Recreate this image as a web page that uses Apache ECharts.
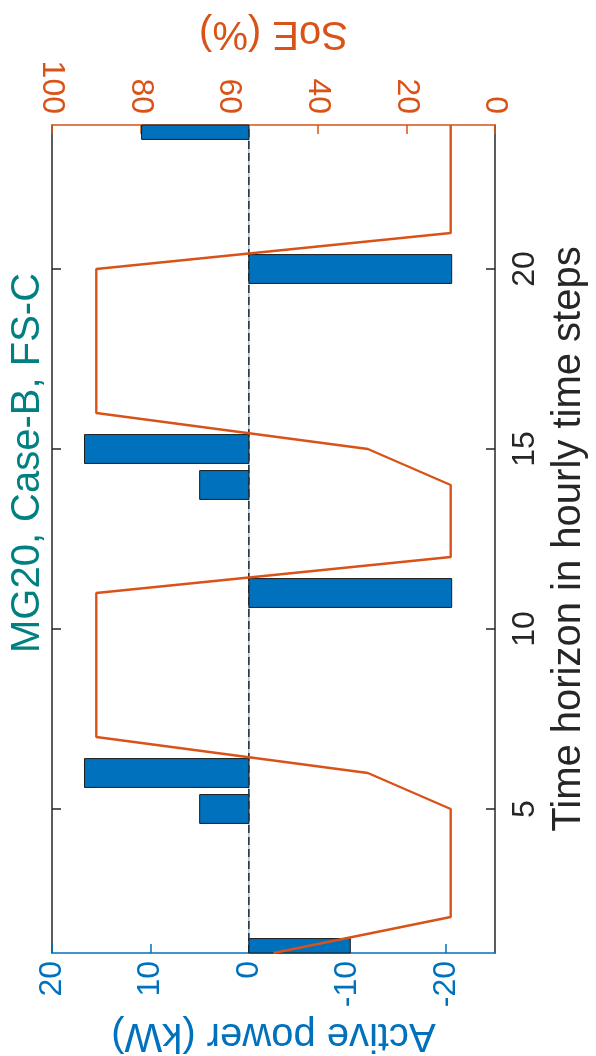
<!DOCTYPE html>
<html>
<head>
<meta charset="utf-8">
<script src="https://cdn.jsdelivr.net/npm/echarts@6/dist/echarts.min.js"></script>
<style>
  html, body { margin: 0; padding: 0; background: #fff; }
  #chart { width: 596px; height: 1056px; }
</style>
</head>
<body>
<div id="chart"></div>
<script>
// hourly time steps
var hours = [1, 2, 3, 4, 5, 6, 7, 8, 9, 10, 11, 12,
             13, 14, 15, 16, 17, 18, 19, 20, 21, 22, 23, 24];
// active power of the storage (kW)
var activePower = [-10.3, 0, 0, 0, 5, 16.7, 0, 0, 0, 0, -20.6, 0,
                   0, 5, 16.7, 0, 0, 0, 0, -20.6, 0, 0, 0, 10.9];
// state of energy (%)
var soe = [50, 10, 10, 10, 10, 28.7, 90, 90, 90, 90, 90, 10,
           10, 10, 28.7, 90, 90, 90, 90, 90, 10, 10, 10, 10];
var powerTicks = [-20, -10, 0, 10, 20];
var timeTicks = [5, 10, 15, 20];

var blue = '#0072BD', orange = '#D95319', dark = '#262626';
var font = "'Liberation Sans', Arial, Helvetica, sans-serif";

var chart = echarts.init(document.getElementById('chart'));

// [time, power] pairs for the bars, [soe, time] pairs for the line
var barData = [];
var soeData = [];
for (var i = 0; i < hours.length; i++) {
    if (activePower[i] !== 0) barData.push([hours[i], activePower[i]]);
    soeData.push([soe[i], hours[i]]);
}
var zeroLine = [[0, hours[0]], [0, hours[hours.length - 1]]];

// horizontal bars, clipped to the plot box (MATLAB cuts the first and last bar)
function renderBar(params, api) {
    var t = api.value(0), p = api.value(1);
    var a = api.coord([0, t]);
    var b = api.coord([p, t]);
    var h = api.size([0, 1])[1] * 0.8;
    var cs = params.coordSys;
    var rect = echarts.graphic.clipRectByRect({
        x: Math.min(a[0], b[0]),
        y: a[1] - h / 2,
        width: Math.abs(b[0] - a[0]),
        height: h
    }, { x: cs.x, y: cs.y, width: cs.width, height: cs.height });
    if (!rect) return;
    return {
        type: 'rect',
        shape: rect,
        style: { fill: blue, stroke: '#1a1a1a', lineWidth: 1 }
    };
}

function timeAxis(pos) {
    var ax = {
        type: 'value',
        min: 1,
        max: 24,
        position: pos,
        axisLine: { show: true, onZero: false, lineStyle: { color: dark, width: 1.5 } },
        axisTick: { show: true, inside: true, length: 9, customValues: timeTicks, lineStyle: { color: dark, width: 1.5 } },
        axisLabel: { show: false },
        splitLine: { show: false }
    };
    return ax;
}

var yRight = timeAxis('right');
yRight.name = 'Time horizon in hourly time steps';
yRight.nameLocation = 'middle';
yRight.nameRotate = 90;
yRight.nameGap = 49;
yRight.nameTextStyle = { color: dark, fontSize: 40, fontFamily: font };
yRight.axisLabel = { show: true, rotate: 90, margin: 14, color: dark, fontSize: 32, fontFamily: font, customValues: timeTicks };
var yLeft = timeAxis('left');

var option = {
    backgroundColor: '#fff',
    animation: false,
    textStyle: { fontFamily: font },
    grid: {
        left: 52,
        top: 125,
        right: 101,
        bottom: 103,
        containLabel: false,
        outerBoundsMode: 'none'
    },
    graphic: [{
        type: 'text',
        x: 28,
        y: 463,
        rotation: Math.PI / 2,
        style: {
            text: 'MG20, Case-B, FS-C',
            fill: '#008080',
            font: '40px ' + font,
            align: 'center',
            verticalAlign: 'middle'
        }
    }],
    xAxis: [{
        // Active power
        type: 'value',
        min: -25,
        max: 20,
        inverse: true,
        position: 'bottom',
        name: 'Active power (kW)',
        nameLocation: 'middle',
        nameRotate: 180,
        nameGap: 47,
        nameTextStyle: { color: blue, fontSize: 40, fontFamily: font },
        axisLine: { show: true, onZero: false, lineStyle: { color: blue, width: 1.5 } },
        axisTick: { show: true, inside: true, length: 9, customValues: powerTicks, lineStyle: { color: blue, width: 1.5 } },
        axisLabel: { rotate: 90, margin: 8, color: blue, fontSize: 32, customValues: powerTicks, fontFamily: font },
        splitLine: { show: false }
    }, {
        // SoE
        type: 'value',
        min: 0,
        max: 100,
        interval: 20,
        inverse: true,
        position: 'top',
        name: 'SoE (%)',
        nameLocation: 'middle',
        nameRotate: 180,
        nameGap: 69,
        nameTextStyle: { color: orange, fontSize: 40, fontFamily: font },
        axisLine: { show: true, onZero: false, lineStyle: { color: orange, width: 1.5 } },
        axisTick: { show: true, inside: true, length: 9, lineStyle: { color: orange, width: 1.5 } },
        axisLabel: { rotate: 90, margin: 11, color: orange, fontSize: 32, fontFamily: font },
        splitLine: { show: false }
    }],
    yAxis: [yRight, yLeft],
    series: [{
        name: 'zero',
        type: 'line',
        xAxisIndex: 0,
        yAxisIndex: 0,
        data: zeroLine,
        showSymbol: false,
        symbol: 'none',
        silent: true,
        lineStyle: { color: '#6fa8dc', width: 1 },
        z: 1
    }, {
        name: 'zero dashed',
        type: 'line',
        xAxisIndex: 0,
        yAxisIndex: 0,
        data: zeroLine,
        showSymbol: false,
        symbol: 'none',
        silent: true,
        lineStyle: { color: '#000', width: 1.2, type: [8, 4] },
        z: 1
    }, {
        name: 'Active power',
        type: 'custom',
        xAxisIndex: 0,
        yAxisIndex: 0,
        renderItem: renderBar,
        encode: { x: 1, y: 0 },
        data: barData,
        z: 2
    }, {
        name: 'SoE',
        type: 'line',
        xAxisIndex: 1,
        yAxisIndex: 0,
        data: soeData,
        showSymbol: false,
        symbol: 'none',
        lineStyle: { color: orange, width: 2.4 },
        z: 3
    }]
};

chart.setOption(option);
</script>
</body>
</html>
